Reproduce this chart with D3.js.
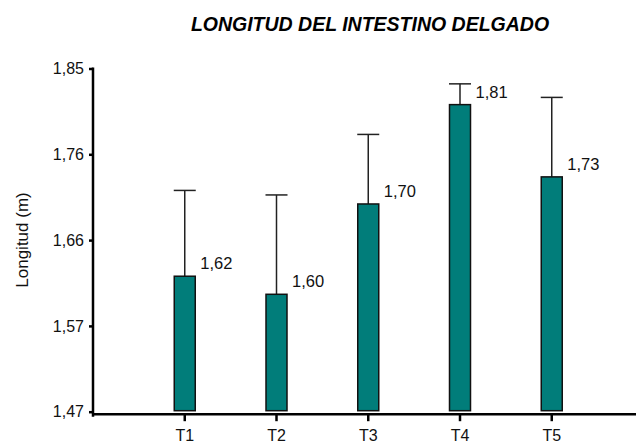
<!DOCTYPE html>
<html>
<head>
<meta charset="utf-8">
<script src="https://cdn.jsdelivr.net/npm/d3@7"></script>
<style>
  html, body { margin: 0; padding: 0; background: #fff; }
  svg { display: block; font-family: "Liberation Sans", Arial, sans-serif; }
</style>
</head>
<body>
<svg id="chart" width="636" height="443"></svg>
<script>
// Treatments and mean small-intestine length (m) with standard deviation
const categories = ["T1", "T2", "T3", "T4", "T5"];
const means = [1.62, 1.60, 1.70, 1.81, 1.73];
const sds = [0.095, 0.11, 0.077, 0.023, 0.088];
const valueLabels = ["1,62", "1,60", "1,70", "1,81", "1,73"];
const yTicks = [1.47, 1.565, 1.66, 1.755, 1.85];
const yTickLabels = ["1,47", "1,57", "1,66", "1,76", "1,85"];

const svg = d3.select("#chart");
const axisX = 93;
const step = 91.75;

const y = d3.scaleLinear().domain([1.47, 1.85]).range([411.7, 68.5]);
const x = d3.scaleBand()
  .domain(categories)
  .range([axisX + step / 2, axisX + step / 2 + step * categories.length])
  .paddingInner(0).paddingOuter(0);
const barW = 21;
const cx = d => x(d) + x.bandwidth() / 2;

// Title
svg.append("text")
  .attr("x", 370).attr("y", 31)
  .attr("text-anchor", "middle")
  .attr("font-size", 19.5).attr("font-weight", "bold").attr("font-style", "italic")
  .attr("fill", "#000")
  .text("LONGITUD DEL INTESTINO DELGADO");

// Y axis title
svg.append("text")
  .attr("transform", "translate(28,240) rotate(-90)")
  .attr("text-anchor", "middle")
  .attr("font-size", 17)
  .attr("fill", "#111")
  .text("Longitud (m)");

// Error bars (upper whisker only)
const eb = svg.append("g").attr("stroke", "#222").attr("stroke-width", 1.5).attr("fill", "none");
categories.forEach((c, i) => {
  eb.append("line").attr("x1", cx(c)).attr("x2", cx(c))
    .attr("y1", y(means[i])).attr("y2", y(means[i] + sds[i]));
  eb.append("line").attr("x1", cx(c) - barW / 2 - 0.5).attr("x2", cx(c) + barW / 2 + 0.5)
    .attr("y1", y(means[i] + sds[i])).attr("y2", y(means[i] + sds[i]));
});

// Bars
svg.append("g").selectAll("rect").data(categories).join("rect")
  .attr("x", d => cx(d) - barW / 2)
  .attr("width", barW)
  .attr("y", (d, i) => y(means[i]))
  .attr("height", (d, i) => y(1.47) - y(means[i]) - 1)
  .attr("fill", "#017d7a")
  .attr("stroke", "#111")
  .attr("stroke-width", 1.5);

// Value labels
svg.append("g").selectAll("text").data(categories).join("text")
  .attr("x", d => cx(d) + barW / 2 + 5)
  .attr("y", (d, i) => y(means[i]) - 7)
  .attr("font-size", 16.5)
  .attr("fill", "#111")
  .text((d, i) => valueLabels[i]);

// Y axis
const yAxis = d3.axisLeft(y).tickValues(yTicks)
  .tickFormat((d, i) => yTickLabels[i]).tickSize(4).tickPadding(5);
const gy = svg.append("g").attr("transform", `translate(${axisX},0)`).call(yAxis);
gy.select(".domain").remove();
gy.append("line").attr("x1", 0).attr("x2", 0)
  .attr("y1", y(1.85) - 1).attr("y2", y(1.47) + 5)
  .attr("stroke", "#000").attr("stroke-width", 2.5);
gy.selectAll(".tick line").attr("stroke", "#000").attr("stroke-width", 2.5);
gy.selectAll(".tick text").attr("font-size", 16).attr("fill", "#111")
  .attr("font-family", "Liberation Sans, Arial, sans-serif");

// X axis
const xAxisY = y(1.47) + 2.5;
const xAxis = d3.axisBottom(x).tickSize(7).tickPadding(8);
const gx = svg.append("g").attr("transform", `translate(0,${xAxisY})`).call(xAxis);
gx.select(".domain").remove();
gx.append("line").attr("x1", axisX - 1).attr("x2", 636)
  .attr("y1", 0).attr("y2", 0)
  .attr("stroke", "#000").attr("stroke-width", 2.5);
gx.selectAll(".tick line").attr("stroke", "#000").attr("stroke-width", 2.5);
gx.selectAll(".tick text").attr("font-size", 16).attr("fill", "#111")
  .attr("font-family", "Liberation Sans, Arial, sans-serif");
</script>
</body>
</html>
